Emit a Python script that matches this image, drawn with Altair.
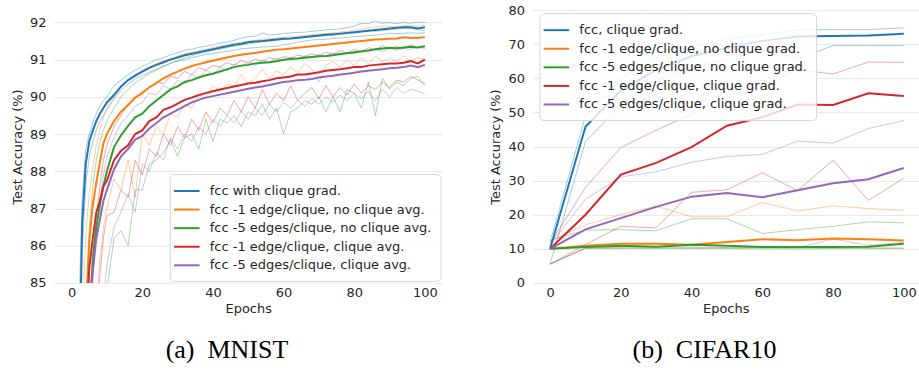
import altair as alt
import pandas as pd

# ---------------------------------------------------------------- labels / colours
MNIST_LABELS = [
    "fcc with clique grad.",
    "fcc -1 edge/clique, no clique avg.",
    "fcc -5 edges/clique, no clique avg.",
    "fcc -1 edge/clique, clique avg.",
    "fcc -5 edges/clique, clique avg.",
]
CIFAR_LABELS = [
    "fcc, clique grad.",
    "fcc -1 edge/clique, no clique grad.",
    "fcc -5 edges/clique, no clique grad.",
    "fcc -1 edge/clique, clique grad.",
    "fcc -5 edges/clique, clique grad.",
]
PALETTE = ["#1f77b4", "#ff7f0e", "#2ca02c", "#d62728", "#9467bd"]

X_TICKS = [0, 20, 40, 60, 80, 100]
MNIST_Y_TICKS = [85, 86, 87, 88, 89, 90, 91, 92]
CIFAR_Y_TICKS = [0, 10, 20, 30, 40, 50, 60, 70, 80]

# ---------------------------------------------------------------- MNIST (mean / max / min over runs)
mnist_epochs = [0, 1, 2, 3, 4, 5, 6, 7, 8, 9, 10,
                12, 14, 16, 18, 20, 22, 24, 26, 28, 30,
                32, 34, 36, 38, 40, 42, 44, 46, 48, 50,
                52, 54, 56, 58, 60, 62, 64, 66, 68, 70,
                72, 74, 76, 78, 80, 82, 84, 86, 88, 90,
                92, 94, 96, 98, 100]

mnist_fcc_mean = [10, 70, 82, 86.6, 88.2, 88.8, 89.1, 89.35, 89.55, 89.7, 89.85,
                  90.05, 90.28, 90.45, 90.57, 90.68, 90.78, 90.86, 90.93, 91.0, 91.06,
                  91.12, 91.16, 91.2, 91.24, 91.28, 91.32, 91.36, 91.4, 91.43, 91.47,
                  91.49, 91.5, 91.52, 91.54, 91.56, 91.57, 91.59, 91.61, 91.63, 91.65,
                  91.67, 91.68, 91.7, 91.72, 91.74, 91.76, 91.78, 91.8, 91.82, 91.84,
                  91.86, 91.87, 91.87, 91.84, 91.87]
mnist_fcc_max = [12, 75, 84, 87.3, 88.6, 89.0, 89.3, 89.55, 89.75, 89.9, 90.0,
                 90.3, 90.45, 90.6, 90.72, 90.82, 90.9, 91.0, 91.05, 91.13, 91.18,
                 91.25, 91.28, 91.33, 91.36, 91.4, 91.45, 91.47, 91.52, 91.58, 91.62,
                 91.63, 91.72, 91.66, 91.68, 91.7, 91.72, 91.73, 91.74, 91.76, 91.78,
                 91.8, 91.81, 91.83, 91.86, 91.9, 91.98, 91.97, 92.04, 91.98, 92.0,
                 91.97, 92.0, 91.98, 92.01, 92.0]
mnist_fcc_min = [8, 65, 80, 85.8, 87.6, 88.4, 88.8, 89.1, 89.35, 89.5, 89.65,
                 89.95, 90.18, 90.35, 90.48, 90.58, 90.66, 90.74, 90.82, 90.9, 90.96,
                 91.0, 91.05, 91.1, 91.14, 91.17, 91.2, 91.22, 91.26, 91.29, 91.31,
                 91.32, 91.34, 91.35, 91.36, 91.4, 91.43, 91.47, 91.5, 91.53, 91.54,
                 91.55, 91.57, 91.58, 91.6, 91.62, 91.63, 91.65, 91.66, 91.68, 91.7,
                 91.7, 91.71, 91.72, 91.71, 91.72]

mnist_e1_noavg_mean = [10, 55, 72, 80, 84, 86.1, 87.1, 87.7, 88.25, 88.75, 89.0,
                       89.35, 89.6, 89.78, 89.98, 90.1, 90.26, 90.37, 90.5, 90.6, 90.68,
                       90.76, 90.83, 90.88, 90.93, 90.97, 91.02, 91.06, 91.1, 91.13, 91.16,
                       91.18, 91.21, 91.24, 91.27, 91.28, 91.3, 91.32, 91.34, 91.36, 91.38,
                       91.4, 91.42, 91.44, 91.46, 91.48, 91.5, 91.52, 91.54, 91.55, 91.56,
                       91.57, 91.6, 91.58, 91.59, 91.6]
mnist_e1_noavg_max = [11, 62, 78, 84, 86.3, 87.4, 88.1, 88.7, 89.1, 89.45, 89.7,
                      90.0, 90.25, 90.45, 90.6, 90.7, 90.8, 90.9, 90.97, 91.03, 91.1,
                      91.16, 91.2, 91.25, 91.28, 91.33, 91.37, 91.4, 91.44, 91.47, 91.5,
                      91.52, 91.55, 91.56, 91.58, 91.6, 91.62, 91.63, 91.65, 91.67, 91.69,
                      91.7, 91.72, 91.74, 91.76, 91.79, 91.82, 91.86, 91.88, 91.9, 91.9,
                      91.88, 91.91, 91.92, 91.9, 91.92]
mnist_e1_noavg_min = [8, 30, 55, 70, 77, 80, 82.5, 84.5, 85.6, 86.5, 87.0,
                      87.8, 87.5, 88.3, 87.3, 89.0, 88.7, 89.2, 89.0, 89.55, 89.45,
                      89.8, 89.7, 90.05, 89.95, 90.3, 90.15, 90.35, 90.3, 90.6, 90.35,
                      90.5, 90.75, 90.5, 90.7, 90.6, 90.8, 90.65, 90.9, 90.75, 90.4,
                      90.85, 90.95, 90.8, 91.0, 90.85, 91.05, 90.9, 91.1, 90.95, 91.05,
                      90.95, 91.1, 90.98, 91.05, 91.02]

mnist_e5_noavg_mean = [10, 40, 62, 74, 80, 84, 85.6, 86.5, 87.1, 87.6, 88.0,
                       88.65, 88.97, 89.22, 89.45, 89.55, 89.75, 89.9, 90.05, 90.2, 90.28,
                       90.4, 90.45, 90.52, 90.58, 90.62, 90.68, 90.74, 90.8, 90.84, 90.86,
                       90.9, 90.92, 90.93, 90.96, 91.0, 91.02, 91.03, 91.05, 91.07, 91.09,
                       91.1, 91.12, 91.15, 91.17, 91.2, 91.22, 91.25, 91.28, 91.3, 91.32,
                       91.31, 91.33, 91.35, 91.33, 91.36]
mnist_e5_noavg_max = [11, 55, 72, 80, 84.5, 86.5, 87.6, 88.3, 88.8, 89.1, 89.35,
                      89.7, 90.0, 90.2, 90.38, 90.5, 90.62, 90.72, 90.82, 90.9, 90.97,
                      91.05, 91.1, 91.16, 91.2, 91.25, 91.28, 91.33, 91.36, 91.4, 91.42,
                      91.45, 91.48, 91.5, 91.52, 91.54, 91.56, 91.57, 91.6, 91.61, 91.63,
                      91.65, 91.66, 91.68, 91.7, 91.72, 91.74, 91.8, 91.76, 91.78, 91.8,
                      91.82, 91.83, 91.84, 91.8, 91.78]
mnist_e5_noavg_min = [5, 20, 40, 55, 65, 72, 76, 79, 81.5, 83.3, 84.8,
                      86.2, 86.4, 86.0, 87.5, 87.5, 88.2, 88.3, 88.5, 88.85, 88.4,
                      88.9, 89.0, 88.6, 89.4, 88.8, 89.4, 89.3, 89.5, 89.2, 89.6,
                      89.5, 89.8, 89.4, 89.7, 89.0, 89.6, 89.7, 89.9, 89.8, 90.0,
                      89.6, 90.0, 89.6, 90.2, 90.1, 89.7, 90.4, 89.5, 90.5, 90.2,
                      90.4, 90.3, 90.5, 90.55, 90.3]

mnist_e1_avg_mean = [10, 45, 68, 78, 83.5, 85.4, 86.2, 86.9, 87.2, 87.6, 87.75,
                     88.3, 88.55, 88.7, 89.0, 89.1, 89.35, 89.45, 89.65, 89.72, 89.82,
                     89.92, 89.98, 90.05, 90.1, 90.15, 90.2, 90.24, 90.28, 90.32, 90.36,
                     90.38, 90.42, 90.45, 90.5, 90.52, 90.55, 90.6, 90.6, 90.63, 90.66,
                     90.7, 90.72, 90.74, 90.77, 90.8, 90.8, 90.84, 90.86, 90.88, 90.9,
                     90.9, 90.92, 90.96, 90.9, 91.0]
mnist_e1_avg_max = [11, 50, 70, 78, 82, 84.5, 85.8, 86.7, 87.6, 88.3, 88.7,
                    89.2, 89.5, 89.8, 89.95, 90.15, 90.25, 90.4, 90.35, 90.55, 90.5,
                    90.68, 90.6, 90.78, 90.72, 90.85, 90.8, 90.92, 90.85, 90.98, 90.9,
                    91.02, 90.96, 91.05, 91.0, 91.08, 91.05, 91.12, 91.08, 91.16, 91.1,
                    91.2, 91.15, 91.24, 91.18, 91.28, 91.22, 91.32, 91.26, 91.38, 91.3,
                    91.36, 91.3, 91.4, 91.32, 91.38]
mnist_e1_avg_min = [5, 25, 50, 65, 73, 78, 81, 83.5, 85.2, 86.2, 86.8,
                    86.9, 87.5, 87.3, 88.3, 87.9, 88.6, 88.4, 89.0, 88.7, 89.2,
                    88.9, 89.4, 89.1, 89.6, 89.3, 89.7, 89.5, 89.9, 89.6, 90.0,
                    89.7, 90.2, 89.8, 90.1, 89.9, 90.3, 89.9, 90.1, 90.25, 89.95,
                    90.3, 90.0, 90.25, 90.05, 90.35, 90.1, 90.3, 90.2, 90.4, 90.25,
                    90.45, 90.4, 90.55, 90.45, 90.35]

mnist_e5_avg_mean = [10, 40, 62, 74, 80.5, 83.8, 85.3, 86.2, 86.7, 87.2, 87.5,
                     88.05, 88.4, 88.6, 88.85, 88.95, 89.15, 89.3, 89.45, 89.55, 89.65,
                     89.75, 89.85, 89.92, 89.98, 90.02, 90.06, 90.1, 90.14, 90.18, 90.22,
                     90.25, 90.28, 90.32, 90.36, 90.4, 90.42, 90.45, 90.46, 90.48, 90.52,
                     90.55, 90.57, 90.6, 90.62, 90.65, 90.68, 90.7, 90.72, 90.74, 90.77,
                     90.78, 90.8, 90.84, 90.8, 90.86]
mnist_e5_avg_max = [11, 45, 66, 76, 80.5, 83.5, 85.2, 86.3, 87.2, 87.9, 88.4,
                    88.9, 89.3, 89.5, 89.75, 89.85, 90.1, 90.05, 90.3, 90.2, 90.45,
                    90.35, 90.6, 90.5, 90.72, 90.6, 90.8, 90.7, 90.88, 90.8, 90.95,
                    90.85, 91.0, 90.92, 91.04, 90.98, 91.06, 91.02, 91.1, 91.05, 91.14,
                    91.08, 91.18, 91.12, 91.2, 91.16, 91.24, 91.2, 91.27, 91.22, 91.3,
                    91.25, 91.3, 91.28, 91.33, 91.3]
mnist_e5_avg_min = [5, 20, 42, 58, 67, 73, 77, 80, 82.5, 84.5, 85.5,
                    86.5, 86.9, 87.4, 86.9, 88.2, 88.0, 88.5, 88.3, 88.9, 88.6,
                    89.0, 88.8, 89.2, 89.0, 89.4, 89.2, 89.5, 89.3, 89.6, 89.4,
                    89.7, 89.5, 89.8, 89.6, 89.85, 89.7, 89.9, 89.75, 89.95, 89.8,
                    90.0, 89.85, 90.05, 89.9, 90.1, 89.95, 90.15, 89.9, 90.2, 90.0,
                    90.25, 90.1, 90.2, 90.15, 90.08]

# ---------------------------------------------------------------- CIFAR10 (mean / max / min over runs)
cifar_epochs = [0, 10, 20, 30, 40, 50, 60, 70, 80, 90, 100]

cifar_fcc_mean = [10, 45.8, 56.5, 62.5, 66.5, 69.0, 71.0, 72.3, 72.4, 72.6, 73.1]
cifar_fcc_max = [12, 49.0, 60.0, 66.0, 69.5, 71.5, 72.8, 74.2, 74.3, 74.3, 74.8]
cifar_fcc_min = [5.5, 41.5, 52.0, 59.0, 63.5, 65.5, 68.3, 65.8, 69.6, 69.6, 69.6]

cifar_e1_nograd_mean = [10, 10.9, 11.5, 11.5, 11.2, 12.0, 12.8, 12.5, 13.0, 12.8, 12.4]
cifar_e1_nograd_max = [12.3, 17.0, 20.1, 22.5, 19.4, 19.4, 23.6, 21.1, 22.6, 21.8, 21.3]
cifar_e1_nograd_min = [5.5, 10.2, 10.3, 10.3, 10.3, 10.3, 10.3, 10.3, 10.3, 10.3, 10.3]

cifar_e5_nograd_mean = [10, 10.5, 10.9, 10.6, 11.2, 10.9, 10.5, 10.5, 10.5, 10.6, 11.5]
cifar_e5_nograd_max = [12.5, 15.5, 15.6, 15.3, 18.8, 18.8, 14.5, 15.6, 16.6, 17.9, 17.6]
cifar_e5_nograd_min = [5.5, 10.1, 10.1, 10.1, 10.1, 10.1, 10.0, 10.0, 10.1, 10.1, 10.1]

cifar_e1_grad_mean = [10, 20.0, 31.8, 35.2, 39.8, 46.1, 48.6, 52.3, 52.2, 55.6, 54.8]
cifar_e1_grad_max = [11.5, 28.0, 39.7, 44.8, 49.5, 55.0, 58.0, 62.5, 61.3, 64.8, 64.7]
cifar_e1_grad_min = [5.5, 11.2, 16.6, 16.1, 26.6, 27.3, 32.3, 27.1, 36.0, 24.2, 30.7]

cifar_e5_grad_mean = [10, 15.7, 19.0, 22.3, 25.3, 26.4, 25.1, 27.2, 29.2, 30.4, 33.7]
cifar_e5_grad_max = [11.2, 24.5, 31.1, 32.6, 35.4, 37.1, 37.7, 41.6, 41.0, 45.3, 47.6]
cifar_e5_grad_min = [5.5, 10.3, 10.5, 10.5, 10.5, 10.4, 10.4, 10.3, 12.9, 11.0, 11.9]


def long_table(epochs, labels, runs):
    """runs: one (mean, max, min) triple per label -> tidy frame."""
    rows = []
    for label, (mean, hi, lo) in zip(labels, runs):
        for stat, values in (("mean", mean), ("max", hi), ("min", lo)):
            assert len(values) == len(epochs), (label, stat)
            for e, v in zip(epochs, values):
                rows.append({"epoch": e, "acc": v, "series": label, "stat": stat})
    return pd.DataFrame(rows)


mnist_df = long_table(mnist_epochs, MNIST_LABELS, [
    (mnist_fcc_mean, mnist_fcc_max, mnist_fcc_min),
    (mnist_e1_noavg_mean, mnist_e1_noavg_max, mnist_e1_noavg_min),
    (mnist_e5_noavg_mean, mnist_e5_noavg_max, mnist_e5_noavg_min),
    (mnist_e1_avg_mean, mnist_e1_avg_max, mnist_e1_avg_min),
    (mnist_e5_avg_mean, mnist_e5_avg_max, mnist_e5_avg_min),
])
cifar_df = long_table(cifar_epochs, CIFAR_LABELS, [
    (cifar_fcc_mean, cifar_fcc_max, cifar_fcc_min),
    (cifar_e1_nograd_mean, cifar_e1_nograd_max, cifar_e1_nograd_min),
    (cifar_e5_nograd_mean, cifar_e5_nograd_max, cifar_e5_nograd_min),
    (cifar_e1_grad_mean, cifar_e1_grad_max, cifar_e1_grad_min),
    (cifar_e5_grad_mean, cifar_e5_grad_max, cifar_e5_grad_min),
])

PLOT_H = 273
FONT = "DejaVu Sans"
INK = "#262626"
NBSP = "\u00a0"


def panel(df, labels, y_domain, y_ticks, x_max, width, legend_x, legend_y, caption):
    x_enc = alt.X("epoch:Q",
                  scale=alt.Scale(domain=[-5, x_max], nice=False, zero=False),
                  axis=alt.Axis(values=X_TICKS, title="Epochs", grid=False,
                                labelPadding=4, titlePadding=3))
    y_enc = alt.Y("acc:Q",
                  scale=alt.Scale(domain=y_domain, nice=False, zero=False),
                  axis=alt.Axis(values=y_ticks, title="Test Accuracy (%)",
                                labelPadding=8, titlePadding=5))
    palette = alt.Scale(domain=labels, range=PALETTE)

    spread = (
        alt.Chart(df)
        .transform_filter("datum.stat != 'mean'")
        .mark_line(strokeWidth=0.9, opacity=0.45, clip=True)
        .encode(x=x_enc, y=y_enc,
                color=alt.Color("series:N", scale=palette, legend=None),
                detail="stat:N")
    )
    mean = (
        alt.Chart(df)
        .transform_filter("datum.stat == 'mean'")
        .mark_line(strokeWidth=2, clip=True)
        .encode(x=x_enc, y=y_enc,
                color=alt.Color("series:N", scale=palette, sort=labels,
                                legend=alt.Legend(
                                    title=None, orient="none",
                                    legendX=legend_x, legendY=legend_y,
                                    symbolType="M-1.6,0H1.6", symbolSize=256,
                                    symbolStrokeWidth=2, symbolOpacity=1,
                                    labelFont=FONT, labelFontSize=13, labelColor=INK,
                                    labelOffset=14, labelLimit=400,
                                    rowPadding=2.6, padding=8,
                                    fillColor="rgba(255,255,255,0.8)",
                                    strokeColor="#d6d6d6", cornerRadius=4)))
    )
    return (
        alt.layer(spread, mean)
        .resolve_scale(color="independent")
        .properties(width=width, height=PLOT_H,
                    title=alt.TitleParams(caption, orient="bottom", anchor="middle",
                                          frame="bounds", font="Liberation Serif",
                                          fontSize=26, fontWeight="normal",
                                          color="black", offset=21))
    )


left = panel(mnist_df, MNIST_LABELS, [85, 92.33], MNIST_Y_TICKS, 105, 389, 116, 164,
             "(a)" + NBSP * 2 + "MNIST")
right = panel(cifar_df, CIFAR_LABELS, [0, 80], CIFAR_Y_TICKS, 104.3, 387, 7, 3,
              "(b)" + NBSP * 2 + "CIFAR10")

chart = (
    alt.hconcat(left, right, spacing=47)
    .properties(padding={"left": 11, "top": 4, "right": 0, "bottom": 0},
                background="white")
    .configure_view(stroke=None)
    .configure_axis(labelFont=FONT, labelFontSize=13, labelColor=INK,
                    titleFont=FONT, titleFontSize=13, titleFontWeight="normal",
                    titleColor=INK, domain=False, ticks=False, tickSize=0,
                    gridColor="#e8e8e8", gridWidth=1)
)

chart.save("out.html", embed_options={"renderer": "svg", "actions": False})
